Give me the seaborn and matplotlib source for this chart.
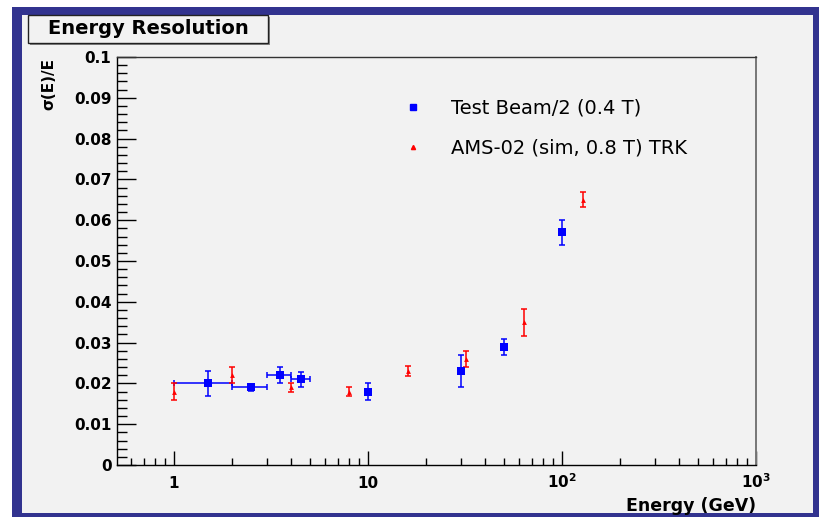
import numpy as np
import pandas as pd
import matplotlib
matplotlib.use("Agg")
import matplotlib.pyplot as plt
import seaborn as sns
from matplotlib.patches import Rectangle
from matplotlib.lines import Line2D
from matplotlib.ticker import FixedLocator, NullFormatter

# ---- data ----
tb_energy = [1.5, 2.5, 3.5, 4.5, 10, 30, 50, 100]
tb_energy_err = [0.5, 0.5, 0.5, 0.5, 0, 0, 0, 0]
tb_res = [0.020, 0.019, 0.022, 0.021, 0.018, 0.023, 0.029, 0.057]
tb_res_err = [0.003, 0.0008, 0.002, 0.0019, 0.002, 0.0039, 0.002, 0.003]

ams_energy = [1, 2, 4, 8, 16, 32, 64, 128]
ams_res = [0.018, 0.022, 0.019, 0.018, 0.023, 0.026, 0.035, 0.065]
ams_res_err = [0.002, 0.0019, 0.0012, 0.0011, 0.0012, 0.002, 0.0033, 0.0018]

labels = ["Test Beam/2 (0.4 T)", "AMS-02 (sim, 0.8 T) TRK"]
x_tick_vals = [1, 10, 100, 1000]
x_tick_labels = ["1", "10", r"$\mathbf{10^{2}}$", r"$\mathbf{10^{3}}$"]
y_tick_vals = [0, 0.01, 0.02, 0.03, 0.04, 0.05, 0.06, 0.07, 0.08, 0.09, 0.1]
y_tick_labels = ["0", "0.01", "0.02", "0.03", "0.04", "0.05", "0.06", "0.07", "0.08", "0.09", "0.1"]

sns.set_style("ticks")
plt.rcParams["font.family"] = ["DejaVu Sans"]
plt.rcParams["mathtext.fontset"] = "dejavusans"
plt.rcParams["text.color"] = "black"
plt.rcParams["xtick.color"] = "black"
plt.rcParams["ytick.color"] = "black"
plt.rcParams["xtick.labelcolor"] = "black"
plt.rcParams["ytick.labelcolor"] = "black"
plt.rcParams["axes.labelcolor"] = "black"

W, H = 819, 517
fig = plt.figure(figsize=(W / 100, H / 100), dpi=100, facecolor="white")

def fx(px):
    return px / W

def fy(py):
    return 1 - py / H

BLUE_FRAME = "#32338f"
BG = "#f2f2f2"
# outer frame
fig.patches.append(Rectangle((fx(12), fy(517)), fx(819) - fx(12), fy(7) - fy(517),
                             transform=fig.transFigure, facecolor=BLUE_FRAME, edgecolor="none", zorder=-10))
fig.patches.append(Rectangle((fx(22), fy(513)), fx(813) - fx(22), fy(15) - fy(513),
                             transform=fig.transFigure, facecolor=BG, edgecolor="none", zorder=-9))

ax = fig.add_axes([fx(117), fy(465), fx(756) - fx(117), fy(57) - fy(465)])
ax.set_zorder(1)
ax.set_facecolor(BG)

df_tb = pd.DataFrame({"E": tb_energy, "res": tb_res, "series": labels[0]})
df_ams = pd.DataFrame({"E": ams_energy, "res": ams_res, "series": labels[1]})

ax.errorbar(tb_energy, tb_res, xerr=tb_energy_err, yerr=tb_res_err, fmt="none",
            ecolor="#0000ff", elinewidth=1.1, capsize=2.5, capthick=1.1, zorder=2)
ax.errorbar(ams_energy, ams_res, yerr=ams_res_err, fmt="none",
            ecolor="#ff0000", elinewidth=1.1, capsize=2.5, capthick=1.1, zorder=2)
sns.scatterplot(data=df_tb, x="E", y="res", ax=ax, marker="s", color="#0000ff",
                s=28, linewidth=0, zorder=3, legend=False)
sns.scatterplot(data=df_ams, x="E", y="res", ax=ax, marker="^", color="#ff0000",
                s=12, linewidth=0, zorder=3, legend=False)

ax.set_xscale("log")
ax.set_xlim(0.508, 1000)
ax.set_ylim(0, 0.1)
ax.set_xlabel("")
ax.set_ylabel("")

ax.set_xticks(x_tick_vals, x_tick_labels, fontweight="bold", fontsize=11, va="baseline", color="black")
minors = [m * 10 ** d for d in range(-1, 3) for m in range(2, 10) if 0.508 <= m * 10 ** d <= 1000]
ax.xaxis.set_minor_locator(FixedLocator(minors))
ax.xaxis.set_minor_formatter(NullFormatter())
ax.set_yticks(y_tick_vals, y_tick_labels, fontweight="bold", fontsize=11, color="black")
ax.yaxis.set_minor_locator(FixedLocator(np.arange(0, 0.1001, 0.002)))

ax.tick_params(axis="both", which="both", direction="in", color="black", width=1)
ax.tick_params(axis="y", which="major", length=14, pad=4)
ax.tick_params(axis="y", which="minor", length=7)
ax.tick_params(axis="x", which="major", length=10, pad=16.5)
ax.tick_params(axis="x", which="minor", length=5)
for s in ax.spines.values():
    s.set_color("black")
    s.set_linewidth(1)
ax.spines["top"].set_color("#333333")
ax.spines["right"].set_color("#777777")
ax.spines["right"].set_linewidth(1.4)

# axis titles
fig.text(fx(49), fy(58), "σ(E)/E", rotation=90, ha="center", va="top",
         fontsize=11, fontweight="bold", color="black")
fig.text(fx(756), fy(506), "Energy (GeV)", ha="right", va="center",
         fontsize=12.5, fontweight="bold", color="black")

# title box
fig.patches.append(Rectangle((fx(30), fy(45)), fx(270) - fx(30), fy(17) - fy(45),
                             transform=fig.transFigure, facecolor="#888888", edgecolor="none", zorder=1))
fig.patches.append(Rectangle((fx(28), fy(43)), fx(268) - fx(28), fy(15) - fy(43),
                             transform=fig.transFigure, facecolor=BG, edgecolor="#222222",
                             linewidth=1, zorder=2))
fig.text(fx(148), fy(29), "Energy Resolution", ha="center", va="center",
         fontsize=14, fontweight="bold", zorder=3, color="black")

# legend
handles = [Line2D([], [], linestyle="none", marker="s", color="#0000ff", markersize=5),
           Line2D([], [], linestyle="none", marker="^", color="#ff0000", markersize=3)]
leg = ax.legend(handles, labels, loc="upper left", bbox_to_anchor=(fx(403), fy(99)),
                bbox_transform=fig.transFigure, frameon=False, fontsize=14,
                handlelength=1.0, handletextpad=1.47, labelspacing=1.06, borderpad=0,
                borderaxespad=0)
for t in leg.get_texts():
    t.set_color("black")

fig.savefig("out.png", dpi=100, facecolor="white")
